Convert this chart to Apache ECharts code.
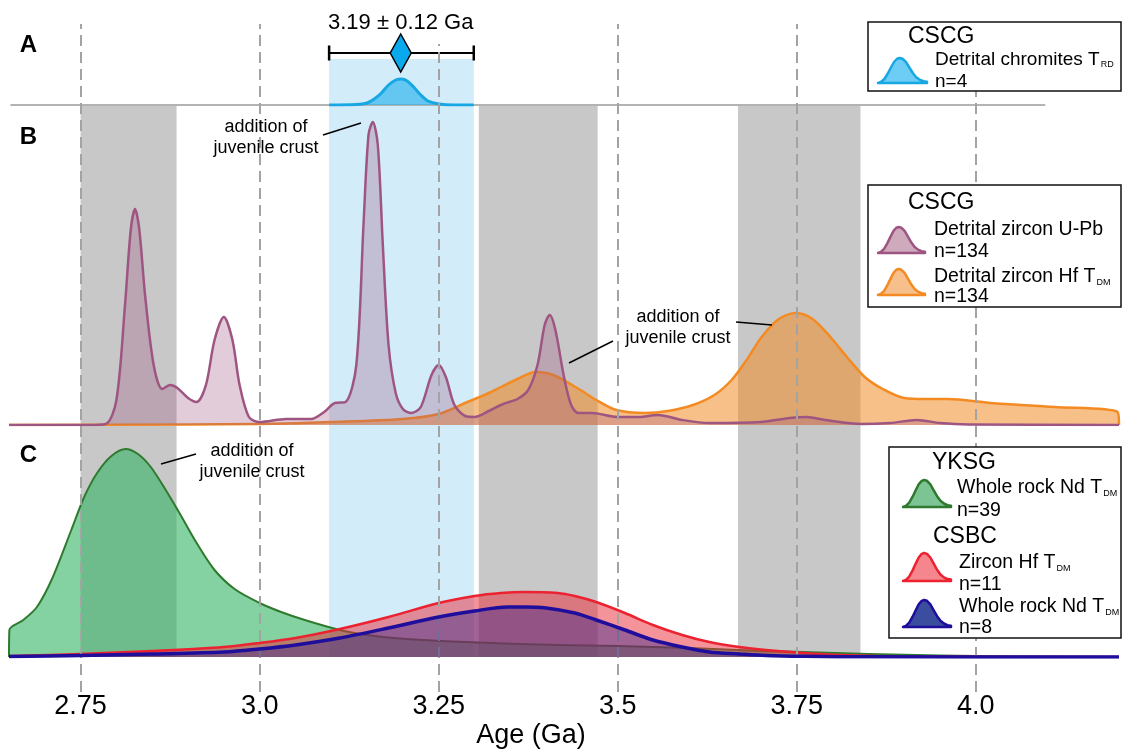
<!DOCTYPE html>
<html><head><meta charset="utf-8">
<script src="https://cdn.jsdelivr.net/npm/echarts@6/dist/echarts.min.js"></script>
<style>html,body{margin:0;padding:0;background:#fff}#c{width:1127px;height:751px}</style>
</head><body><div id="c"></div><script>
// ---------- data ----------
const X_MIN = 2.65, X_MAX = 4.2;
const tickValues = [2.75, 3.0, 3.25, 3.5, 3.75, 4.0];
const tickLabels = ['2.75', '3.0', '3.25', '3.5', '3.75', '4.0'];
const greyBands = [[2.75, 2.884], [3.306, 3.472], [3.668, 3.839]];
const blueBand = [3.097, 3.299];
const chromiteEstimate = [3.197, 3.097, 3.299]; // centre, low, high
const chromiteLabel = '3.19 ± 0.12 Ga';
const panelABaseline = [[2.652, 0], [4.097, 0]];

const chromiteTRD = [[3.097,0],[3.135,0.5],[3.15,2],[3.16,6],[3.17,12],[3.18,20],[3.19,25],[3.198,26],[3.206,24],[3.215,18],[3.225,10],[3.235,4],[3.25,1],[3.27,0],[3.299,0]];

const zirconUPb = [[2.65,0],[2.76,0],[2.785,1],[2.80,25],[2.812,120],[2.82,195],[2.826,216],[2.832,195],[2.84,130],[2.852,60],[2.864,36],[2.875,40],[2.885,37],[2.90,27],[2.912,23],[2.925,40],[2.937,85],[2.95,108],[2.962,85],[2.972,40],[2.985,8],[3.0,3],[3.037,6],[3.072,6],[3.09,13],[3.105,22],[3.12,23],[3.135,60],[3.145,200],[3.152,290],[3.158,303],[3.165,280],[3.172,180],[3.18,80],[3.19,32],[3.2,16],[3.212,12],[3.225,18],[3.24,50],[3.25,60],[3.26,48],[3.272,20],[3.287,9],[3.3,8],[3.32,14],[3.34,21],[3.36,26],[3.375,35],[3.388,60],[3.398,100],[3.405,110],[3.413,95],[3.425,48],[3.435,20],[3.445,12],[3.464,12],[3.5,8],[3.53,8],[3.556,10],[3.59,5],[3.628,2],[3.7,3],[3.74,7],[3.764,8],[3.79,5],[3.84,1],[3.88,2],[3.918,5],[3.95,2],[3.99,0.5],[4.2,0]];

const zirconHf = [[2.65,0],[2.9,0.5],[3.0,1],[3.1,3],[3.2,6],[3.25,11],[3.287,22],[3.32,32],[3.337,38],[3.36,46],[3.385,53],[3.41,50],[3.448,35],[3.47,25],[3.498,15],[3.538,12],[3.57,14],[3.605,20],[3.635,30],[3.659,45],[3.68,65],[3.701,88],[3.725,106],[3.749,112],[3.772,106],[3.797,88],[3.82,68],[3.845,48],[3.87,36],[3.9,27],[3.93,26],[3.961,26],[4.021,22],[4.11,18],[4.198,13],[4.2,0]];

const yksgNd = [[2.65,0],[2.6505,27],[2.67,37],[2.689,50],[2.71,78],[2.737,127],[2.755,160],[2.773,184],[2.793,201],[2.813,208],[2.83,203],[2.848,190],[2.868,168],[2.888,144],[2.912,114],[2.937,87],[2.965,68],[3.0,54],[3.03,45],[3.063,37],[3.112,27],[3.15,22],[3.187,19],[3.287,15],[3.416,12],[3.5,11],[3.6,9],[3.7,6],[3.758,5],[3.85,3],[3.95,1.5],[4.05,0.5],[4.2,0]];

const csbcHf = [[2.65,1],[2.75,3],[2.85,6],[2.95,10],[3.0,14],[3.05,19],[3.112,28],[3.18,40],[3.25,54],[3.3,61],[3.337,64],[3.37,65],[3.416,64],[3.44,61],[3.47,55],[3.51,44],[3.549,32],[3.59,22],[3.628,15],[3.67,10],[3.707,7],[3.76,4],[3.81,2],[3.9,0.5],[4.2,0]];

const csbcNd = [[2.65,0.5],[2.75,1.5],[2.85,3],[2.95,5],[3.0,8],[3.05,12],[3.112,19],[3.18,29],[3.25,40],[3.3,46],[3.346,50],[3.37,50],[3.4,49],[3.44,44],[3.47,37],[3.51,27],[3.549,17],[3.59,10],[3.628,5],[3.67,3],[3.707,1.5],[3.76,0.7],[3.85,0.2],[4.2,0]];

// ---------- styling ----------
const FONT = '"Liberation Sans", Arial, Helvetica, sans-serif';
const C = {
  cyan: '#17a8e3', cyanFill: 'rgba(40,180,238,0.65)',
  purple: '#9e5581', purpleFill: 'rgba(160,85,128,0.3)',
  orange: '#f38a22', orangeFill: 'rgba(242,140,40,0.55)',
  green: '#2f7a2f', greenFill: 'rgba(50,180,100,0.6)',
  red: '#ec2230', redFill: 'rgba(235,40,55,0.5)',
  blue: '#1f0e9c', blueFill: 'rgba(60,40,140,0.45)'
};

const chart = echarts.init(document.getElementById('c'));

const common = { left: 9, right: 8, containLabel: false, outerBoundsMode: 'none' };
const grids = [
  { ...common, top: 24, bottom: 59 },   // background: bands, dashed lines, axis labels
  { ...common, top: 20, bottom: 646 },  // A
  { ...common, top: 105, bottom: 326 }, // B
  { ...common, top: 425, bottom: 94 }   // C
];
const yMax = [668, 85, 320, 232];

const xAxes = grids.map((g, i) => ({
  type: 'value', gridIndex: i, min: X_MIN, max: X_MAX,
  show: i === 0,
  axisLine: { show: false }, axisTick: { show: false }, splitLine: { show: false },
  axisLabel: i === 0 ? {
    customValues: tickValues,
    formatter: v => tickLabels[tickValues.findIndex(t => Math.abs(t - v) < 1e-6)],
    fontSize: 27, fontFamily: FONT, color: '#000', margin: 1
  } : { show: false },
  name: i === 0 ? 'Age (Ga)' : '',
  nameLocation: 'middle', nameGap: 30, nameMoveOverlap: false,
  nameTextStyle: { fontSize: 27, fontFamily: FONT, color: '#000', padding: [0, 66, 0, 0] }
}));
const yAxes = grids.map((g, i) => ({
  type: 'value', gridIndex: i, min: 0, max: yMax[i], show: false
}));

function dens(data, gi, line, fill, width, z) {
  return {
    type: 'line', xAxisIndex: gi, yAxisIndex: gi, data,
    showSymbol: false, symbol: 'none', smooth: 0.3,
    lineStyle: { color: line, width, join: 'round' }, areaStyle: { color: fill, opacity: 1 },
    z, silent: true, animation: false
  };
}

const series = [
  { type: 'line', xAxisIndex: 0, yAxisIndex: 0, data: [], z: 1, silent: true,
    markArea: { silent: true, data: [
      ...greyBands.map(b => [{ xAxis: b[0], yAxis: 35, itemStyle: { color: '#c8c8c8', opacity: 1 } }, { xAxis: b[1], yAxis: 587 }]),
      [{ xAxis: blueBand[0], yAxis: 35, itemStyle: { color: '#d2ecfa', opacity: 1 } }, { xAxis: blueBand[1], yAxis: 633 }]
    ] } },
  { type: 'line', xAxisIndex: 0, yAxisIndex: 0, data: [], z: 2, silent: true,
    markLine: { silent: true, symbol: 'none', label: { show: false },
      lineStyle: { color: '#a3a3a3', width: 2, type: [11, 6] },
      data: tickValues.map(v => [{ coord: [v, 0] }, { coord: [v, Math.abs(v - 3.25) < 1e-6 ? 648 : 668] }]) } },
  { type: 'line', xAxisIndex: 1, yAxisIndex: 1, data: panelABaseline, symbol: 'none',
    lineStyle: { color: '#b3b3b3', width: 2 }, z: 2, silent: true },
  dens(chromiteTRD, 1, C.cyan, C.cyanFill, 3, 3),
  {
    type: 'custom', xAxisIndex: 1, yAxisIndex: 1, data: [chromiteEstimate], z: 4, clip: false, silent: true,
    encode: { x: [0, 1, 2] },
    renderItem: (params, api) => {
      const yv = 52;
      const c = api.coord([api.value(0), yv]);
      const l = api.coord([api.value(1), yv]);
      const r = api.coord([api.value(2), yv]);
      return { type: 'group', children: [
        { type: 'line', shape: { x1: l[0], y1: l[1], x2: r[0], y2: r[1] }, style: { stroke: '#000', lineWidth: 2 } },
        { type: 'line', shape: { x1: l[0], y1: l[1] - 7.5, x2: l[0], y2: l[1] + 7.5 }, style: { stroke: '#000', lineWidth: 2.5 } },
        { type: 'line', shape: { x1: r[0], y1: r[1] - 7.5, x2: r[0], y2: r[1] + 7.5 }, style: { stroke: '#000', lineWidth: 2.5 } },
        { type: 'polygon', shape: { points: [[c[0], c[1] - 19], [c[0] + 10.5, c[1]], [c[0], c[1] + 19], [c[0] - 10.5, c[1]]] },
          style: { fill: '#0aa8ec', stroke: '#000', lineWidth: 1.5 } },
        { type: 'text', style: { text: chromiteLabel, x: c[0], y: c[1] - 30, align: 'center', verticalAlign: 'middle',
          fontSize: 22, fontFamily: FONT, fill: '#000' } }
      ] };
    }
  },
  dens(zirconHf, 2, C.orange, C.orangeFill, 2.5, 3),
  dens(zirconUPb, 2, C.purple, C.purpleFill, 2.5, 4),
  dens(yksgNd, 3, C.green, C.greenFill, 2, 3),
  dens(csbcHf, 3, C.red, C.redFill, 2.5, 4),
  dens(csbcNd, 3, C.blue, C.blueFill, 3.5, 5)
];

// ---------- graphic: legends, annotations, panel letters ----------
const G = [];
function txt(x, y, text, size, extra) {
  G.push(Object.assign({ type: 'text', x, y, z: 100, silent: true,
    style: { text, fontSize: size, fontFamily: FONT, fill: '#000', align: 'left', verticalAlign: 'middle',
      rich: { sub: { fontSize: 9, fontFamily: FONT, verticalAlign: 'bottom', padding: [0, 0, 0, 1] } } } }, extra || {}));
}
function box(x, y, w, h) {
  G.push({ type: 'rect', z: 99, silent: true, shape: { x, y, width: w, height: h },
    style: { fill: '#fff', stroke: '#111', lineWidth: 1.5 } });
}
function icon(x, y, w, h, stroke, fill) {
  const prof = [[0,1],[0.06,0.96],[0.13,0.84],[0.2,0.62],[0.27,0.36],[0.33,0.15],[0.39,0.03],[0.44,0],[0.5,0.03],[0.57,0.16],[0.64,0.38],[0.71,0.6],[0.78,0.77],[0.86,0.88],[0.93,0.93],[1,0.95],[1,1]];
  G.push({ type: 'polygon', z: 100, silent: true, shape: { points: prof.map(p => [x + p[0] * w, y + p[1] * h]) },
    style: { fill, stroke, lineWidth: 2.5, lineJoin: 'round' } });
}
function seg(x1, y1, x2, y2) {
  G.push({ type: 'line', z: 100, silent: true, shape: { x1, y1, x2, y2 }, style: { stroke: '#000', lineWidth: 1.5 } });
}
function note(x, y, text) {
  G.push({ type: 'text', x, y, z: 100, silent: true,
    style: { text, fontSize: 18, fontFamily: FONT, fill: '#000', align: 'center', verticalAlign: 'middle', lineHeight: 21 } });
}

// Box A
box(868, 22, 253, 69);
txt(908, 37, 'CSCG', 23);
txt(935, 60, 'Detrital chromites T{sub|RD}', 19);
txt(935, 82, 'n=4', 19);
icon(878, 58, 49, 25, C.cyan, '#6dcdf4');
// Box B
box(868, 185, 253, 122);
txt(908, 203, 'CSCG', 23);
txt(934, 230, 'Detrital zircon U-Pb', 19.5);
txt(934, 252, 'n=134', 19.5);
txt(934, 277, 'Detrital zircon Hf T{sub|DM}', 19.5);
txt(934, 297, 'n=134', 19.5);
icon(878, 227, 47, 26, C.purple, '#cfaabd');
icon(878, 269, 47, 26, C.orange, '#f6bf8b');
// Box C
box(889, 447, 232, 191);
txt(932, 463, 'YKSG', 23);
txt(957, 488, 'Whole rock Nd T{sub|DM}', 19.5);
txt(957, 511, 'n=39', 19.5);
txt(933, 537, 'CSBC', 23);
txt(959, 563, 'Zircon Hf T{sub|DM}', 19.5);
txt(959, 585, 'n=11', 19.5);
txt(959, 607, 'Whole rock Nd T{sub|DM}', 19.5);
txt(959, 628, 'n=8', 19.5);
icon(903, 480, 48, 27, C.green, '#7dc495');
icon(903, 553, 48, 28, C.red, '#f5868e');
icon(903, 600, 48, 27, C.blue, '#3a4d9e');

// annotations
note(266, 138, 'addition of\njuvenile crust');
seg(323, 135, 361, 123);
note(678, 328, 'addition of\njuvenile crust');
seg(569, 363, 613, 341);
seg(736, 322, 772, 325);
note(252, 462, 'addition of\njuvenile crust');
seg(161, 464, 196, 454);

// panel letters
[['A', 45.5], ['B', 137], ['C', 455]].forEach(([t, y]) => {
  G.push({ type: 'text', x: 28.5, y, z: 100, silent: true,
    style: { text: t, fontSize: 24, fontWeight: 'bold', fontFamily: FONT, fill: '#000', align: 'center', verticalAlign: 'middle' } });
});

chart.setOption({
  animation: false,
  backgroundColor: '#fff',
  grid: grids,
  xAxis: xAxes,
  yAxis: yAxes,
  series,
  graphic: { elements: G }
});
</script></body></html>
